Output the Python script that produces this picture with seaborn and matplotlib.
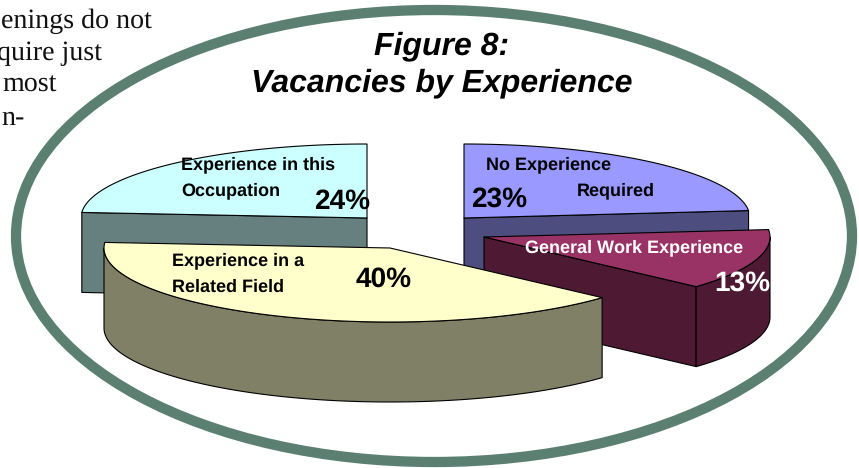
import numpy as np
import matplotlib
matplotlib.use("Agg")
import matplotlib.pyplot as plt
from matplotlib.patches import Ellipse, Rectangle
import seaborn as sns

# slices in clockwise order from 12 o'clock
categories = ["No Experience", "General Work Experience", "Experience in a Related Field", "Experience in this Occupation"]
shares = [23.4, 13.3, 39.5, 23.8]
top_colors = ["#9999FF", "#993366", "#FFFFCC", "#CCFFFF"]
side_colors = ["#4D4D80", "#4D1933", "#808066", "#668080"]
title_lines = ["Figure 8:", "Vacancies by Experience"]
body_lines = ["enings do not", "quire just", "most", "n-"]

RX, RY, DEPTH = 286, 74, 80
apex = {
    "No Experience": (464, 218),
    "General Work Experience": (484, 237),
    "Experience in a Related Field": (390, 248),
    "Experience in this Occupation": (367, 218),
}
OVAL_GREEN = "#5B8071"


def rim(cx, cy, a0, a1):
    # angles are degrees clockwise from the top of the pie
    t = np.radians(np.linspace(a0, a1, 120))
    return cx + RX * np.sin(t), cy - RY * np.cos(t)


def draw_slice(ax, name, a0, a1, top, side):
    cx, cy = apex[name]
    x, y = rim(cx, cy, a0, a1)
    kw = dict(edgecolor="black", linewidth=0.8, joinstyle="round")

    # flat faces showing where the slice was cut
    if name == "No Experience":
        ax.fill([cx, x[-1], x[-1], cx], [cy, y[-1], y[-1] + DEPTH, cy + DEPTH], facecolor=side, **kw)
    if name == "Experience in this Occupation":
        ax.fill([cx, x[0], x[0], cx], [cy, y[0], y[0] + DEPTH, cy + DEPTH], facecolor=side, **kw)
    if name == "General Work Experience":
        ax.fill([cx, x[-1], x[-1], cx], [cy, y[-1], y[-1] + DEPTH, cy + DEPTH], facecolor=side, **kw)

    # curved outer wall, only the part turned to the viewer
    lo, hi = max(a0, 90), min(a1, 270)
    if lo < hi and name in ("General Work Experience", "Experience in a Related Field"):
        rx, ry = rim(cx, cy, lo, hi)
        ax.fill(np.r_[rx, rx[::-1]], np.r_[ry, ry[::-1] + DEPTH], facecolor=side, **kw)

    ax.fill(np.r_[cx, x], np.r_[cy, y], facecolor=top, **kw)


sns.set_theme(style="white")
plt.rcParams["font.family"] = ["Liberation Sans", "DejaVu Sans"]
plt.rcParams["text.hinting"] = "no_hinting"
plt.rcParams["text.hinting_factor"] = 1

fig = plt.figure(figsize=(8.59, 4.68), dpi=100)
ax = fig.add_axes([0, 0, 1, 1])
ax.set_xlim(0, 859)
ax.set_ylim(468, 0)
ax.axis("off")

for line, x, y in zip(body_lines, [152, 102, 57, 25], [21, 53, 85, 118]):
    ax.text(x, y, line, family="Liberation Serif", fontsize=19.8, color="#111111", va="center", ha="right")

ax.add_patch(Ellipse((434, 236), 836, 452, fill=False, edgecolor=OVAL_GREEN, linewidth=7.4))

edges = np.cumsum([0] + shares) * 3.6
draw_order = [0, 3, 1, 2]
for i in draw_order:
    draw_slice(ax, categories[i], edges[i], edges[i + 1], top_colors[i], side_colors[i])

for line, y in zip(title_lines, [46, 83]):
    ax.text(442, y, line, fontsize=23.2, fontweight="bold", fontstyle="italic", color="black", ha="center", va="center")

lab = dict(fontsize=13.2, fontweight="bold", color="black", va="center", ha="left")
ax.text(181, 165, "Experience in this", **lab)
ax.text(181, 191, "Occupation", **lab)
ax.text(486, 165, "No Experience", **lab)
ax.text(577, 191, "Required", **lab)
ax.text(172, 261, "Experience in a", **lab)
ax.text(172, 287, "Related Field", **lab)
ax.text(525, 248, "General Work Experience", **{**lab, "color": "white"})

pct = dict(fontsize=20, fontweight="bold", color="black", va="center", ha="left")
ax.text(314, 202, f"{round(shares[3])}%", **pct)
ax.text(471, 199, f"{round(shares[0])}%", **pct)
ax.text(356, 279, f"{round(shares[2])}%", **pct)
t = ax.text(714, 283, f"{round(shares[1])}%", **{**pct, "color": "white"})
t.set_clip_path(Rectangle((700, 250), 72, 60, transform=ax.transData))
t.set_clip_on(True)

sns.despine(ax=ax, left=True, bottom=True)
fig.savefig("out.png", dpi=100, facecolor="white")
